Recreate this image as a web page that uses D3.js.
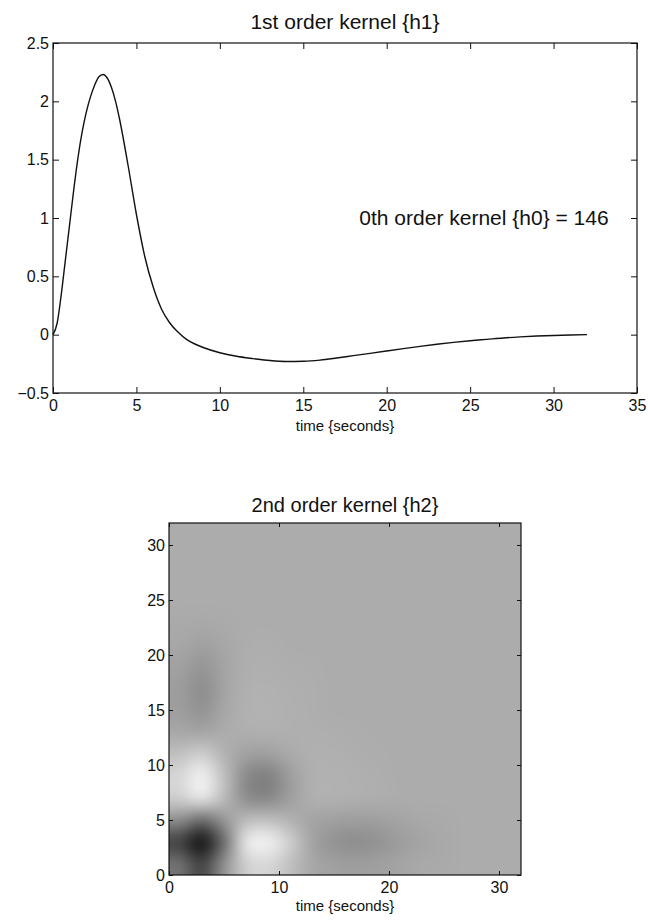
<!DOCTYPE html>
<html><head><meta charset="utf-8">
<script src="https://cdn.jsdelivr.net/npm/d3@7"></script>
<style>
body{margin:0;background:#fff}
svg{display:block}
text{font-family:"Liberation Sans",Arial,Helvetica,sans-serif;fill:#111}
</style>
</head><body>
<svg id="c" width="648" height="921"></svg>
<script>
// ---------- data ----------
const h1Time  = [0,0.25,0.5,0.75,1,1.25,1.5,1.75,2,2.25,2.5,2.75,3,3.25,3.5,3.75,4,4.5,5,5.5,6,6.5,7,7.5,8,8.5,9,10,11,12,13,14,15,16,17,18,19,20,21,22,23,24,25,26,27,28,29,30,31,32];
const h1Value = [0,0.1,0.35,0.65,0.95,1.25,1.52,1.74,1.91,2.04,2.14,2.21,2.23,2.2,2.12,2.0,1.84,1.45,1.03,0.67,0.41,0.22,0.1,0.02,-0.04,-0.08,-0.11,-0.155,-0.185,-0.205,-0.222,-0.23,-0.228,-0.218,-0.2,-0.18,-0.16,-0.14,-0.12,-0.1,-0.082,-0.066,-0.052,-0.04,-0.028,-0.019,-0.012,-0.007,-0.003,0];
const h1XTicks = [0,5,10,15,20,25,30,35];
const h1YTicks = [-0.5,0,0.5,1,1.5,2,2.5];
const h1YLabels = ["\u22120.5","0","0.5","1","1.5","2","2.5"];
const h0Value = 146;

// 2nd order kernel, sampled at cell centres t = 1,3,...,31 (rows: t2 ascending, cols: t1 ascending)
const h2Grid = [1,3,5,7,9,11,13,15,17,19,21,23,25,27,29,31];
const h2Values = [
 [-0.38,-0.68,-0.18, 0.45, 0.55, 0.25,-0.03,-0.08,-0.09,-0.08,-0.05,-0.02,-0.01,0,0,0],
 [-0.70,-1.00,-0.42, 0.75, 0.90, 0.45,-0.06,-0.17,-0.20,-0.17,-0.10,-0.05,-0.02,0,0,0],
 [-0.20,-0.42,-0.14, 0.20, 0.25, 0.08,-0.05,-0.08,-0.09,-0.08,-0.05,-0.02,-0.01,0,0,0],
 [ 0.45, 0.75, 0.20,-0.21,-0.25,-0.09, 0.05, 0.07, 0.04, 0.02, 0,0,0,0,0,0],
 [ 0.55, 0.90, 0.25,-0.23,-0.29,-0.10, 0.05, 0.07, 0.05, 0.02, 0,0,0,0,0,0],
 [ 0.25, 0.45, 0.08,-0.07,-0.08,-0.01, 0.05, 0.05, 0.03, 0.01, 0,0,0,0,0,0],
 [-0.03,-0.05, 0.00, 0.04, 0.05, 0.04, 0.035,0.02, 0.01, 0,0,0,0,0,0,0],
 [-0.09,-0.17,-0.04, 0.07, 0.08, 0.05, 0.02, 0,0,0,0,0,0,0,0,0],
 [-0.10,-0.20,-0.06, 0.05, 0.07, 0.04, 0.02, 0,0,0,0,0,0,0,0,0],
 [-0.07,-0.15,-0.05, 0.03, 0.04, 0.02, 0.01, 0,0,0,0,0,0,0,0,0],
 [-0.03,-0.07,-0.03, 0.01, 0.02, 0,0,0,0,0,0,0,0,0,0,0],
 [-0.01,-0.02,-0.01, 0,0,0,0,0,0,0,0,0,0,0,0,0],
 [0,0,0,0,0,0,0,0,0,0,0,0,0,0,0,0],
 [0,0,0,0,0,0,0,0,0,0,0,0,0,0,0,0],
 [0,0,0,0,0,0,0,0,0,0,0,0,0,0,0,0],
 [0,0,0,0,0,0,0,0,0,0,0,0,0,0,0,0]
];
const h2XTicks = [0,10,20,30];
const h2YTicks = [0,5,10,15,20,25,30];

// ---------- layout ----------
const svg = d3.select("#c");
const F = '"Liberation Sans",Arial,Helvetica,sans-serif';
const tickFont = 16;

function frameAxes(g, x, y, xt, yt, ylab, tlen){
  const [x0,x1] = x.range(), [y1,y0] = y.range();
  const fmtY = ylab ? (d)=>ylab[yt.indexOf(d)] : d3.format("d");
  g.append("g").attr("transform",`translate(0,${y1})`)
    .call(d3.axisBottom(x).tickValues(xt).tickSize(-tlen).tickPadding(7).tickFormat(d3.format("d")))
    .call(a=>{a.select(".domain").remove();a.selectAll("text").attr("font-size",tickFont).attr("font-family",F).attr("fill","#111");a.selectAll("line").attr("stroke","#111");});
  g.append("g").attr("transform",`translate(0,${y0})`)
    .call(d3.axisTop(x).tickValues(xt).tickSize(-tlen).tickFormat(""))
    .call(a=>{a.select(".domain").remove();a.selectAll("line").attr("stroke","#111");});
  g.append("g").attr("transform",`translate(${x0},0)`)
    .call(d3.axisLeft(y).tickValues(yt).tickSize(-tlen).tickPadding(4).tickFormat(fmtY))
    .call(a=>{a.select(".domain").remove();a.selectAll("text").attr("font-size",tickFont).attr("font-family",F).attr("fill","#111");a.selectAll("line").attr("stroke","#111");});
  g.append("g").attr("transform",`translate(${x1},0)`)
    .call(d3.axisRight(y).tickValues(yt).tickSize(-tlen).tickFormat(""))
    .call(a=>{a.select(".domain").remove();a.selectAll("line").attr("stroke","#111");});
  g.append("rect").attr("x",x0).attr("y",y0).attr("width",x1-x0).attr("height",y1-y0)
    .attr("fill","none").attr("stroke","#111").attr("stroke-width",1.2);
}

// ---------- top: 1st order kernel ----------
const xA = d3.scaleLinear().domain([0,35]).range([53,637]);
const yA = d3.scaleLinear().domain([-0.5,2.5]).range([393,43]);
const gA = svg.append("g");
gA.append("path")
  .datum(h1Time.map((t,i)=>[t,h1Value[i]]))
  .attr("fill","none").attr("stroke","#111").attr("stroke-width",1.4)
  .attr("d", d3.line().x(d=>xA(d[0])).y(d=>yA(d[1])).curve(d3.curveMonotoneX));
frameAxes(gA, xA, yA, h1XTicks, h1YTicks, h1YLabels, 6);
gA.append("text").attr("x",(xA.range()[0]+xA.range()[1])/2).attr("y",29)
  .attr("text-anchor","middle").attr("font-size",21).text("1st order kernel {h1}");
gA.append("text").attr("x",(xA.range()[0]+xA.range()[1])/2).attr("y",431)
  .attr("text-anchor","middle").attr("font-size",15).text("time {seconds}");
gA.append("text").attr("x",xA(33.3)).attr("y",yA(1)+7).attr("text-anchor","end")
  .attr("font-size",21).text(`0th order kernel {h0} = ${h0Value}`);

// ---------- bottom: 2nd order kernel ----------
const xB = d3.scaleLinear().domain([0,32]).range([169,521]);
const yB = d3.scaleLinear().domain([0,32]).range([875,523]);
const color = d3.scaleLinear().domain([-1,0,1]).range(["#121212","#acacac","#fafafa"]);
const gB = svg.append("g");
gB.append("rect").attr("x",xB(0)).attr("y",yB(32)).attr("width",xB(32)-xB(0)).attr("height",yB(0)-yB(32)).attr("fill",color(0));

// small padded image: pixel centres at t = -1,1,3,...,31,33
const n = h2Grid.length, P = n+2;
const small = document.createElement("canvas"); small.width=P; small.height=P;
const sctx = small.getContext("2d");
const img = sctx.createImageData(P,P);
const clamp = v=>Math.max(0,Math.min(n-1,v));
for(let j=0;j<P;j++){ for(let i=0;i<P;i++){
  const r = clamp(n - j), c = clamp(i-1);
  const col = d3.rgb(color(h2Values[r][c]));
  const k = 4*(j*P+i);
  img.data[k]=col.r; img.data[k+1]=col.g; img.data[k+2]=col.b; img.data[k+3]=255;
}}
sctx.putImageData(img,0,0);
const W = Math.round(xB(32)-xB(0)), H = Math.round(yB(0)-yB(32));
const big = document.createElement("canvas"); big.width=W; big.height=H;
const bctx = big.getContext("2d");
bctx.imageSmoothingEnabled = true; bctx.imageSmoothingQuality = "high";
bctx.filter = "blur(3px)";
bctx.drawImage(small, xB(-2)-xB(0), yB(34)-yB(32), xB(34)-xB(-2), yB(-2)-yB(34));
gB.append("image").attr("x",xB(0)).attr("y",yB(32)).attr("width",W).attr("height",H)
  .attr("preserveAspectRatio","none").attr("href",big.toDataURL());
frameAxes(gB, xB, yB, h2XTicks, h2YTicks, null, 4);
gB.append("text").attr("x",(xB.range()[0]+xB.range()[1])/2).attr("y",512)
  .attr("text-anchor","middle").attr("font-size",20).text("2nd order kernel {h2}");
gB.append("text").attr("x",(xB.range()[0]+xB.range()[1])/2).attr("y",911)
  .attr("text-anchor","middle").attr("font-size",15).text("time {seconds}");
</script>
</body></html>
